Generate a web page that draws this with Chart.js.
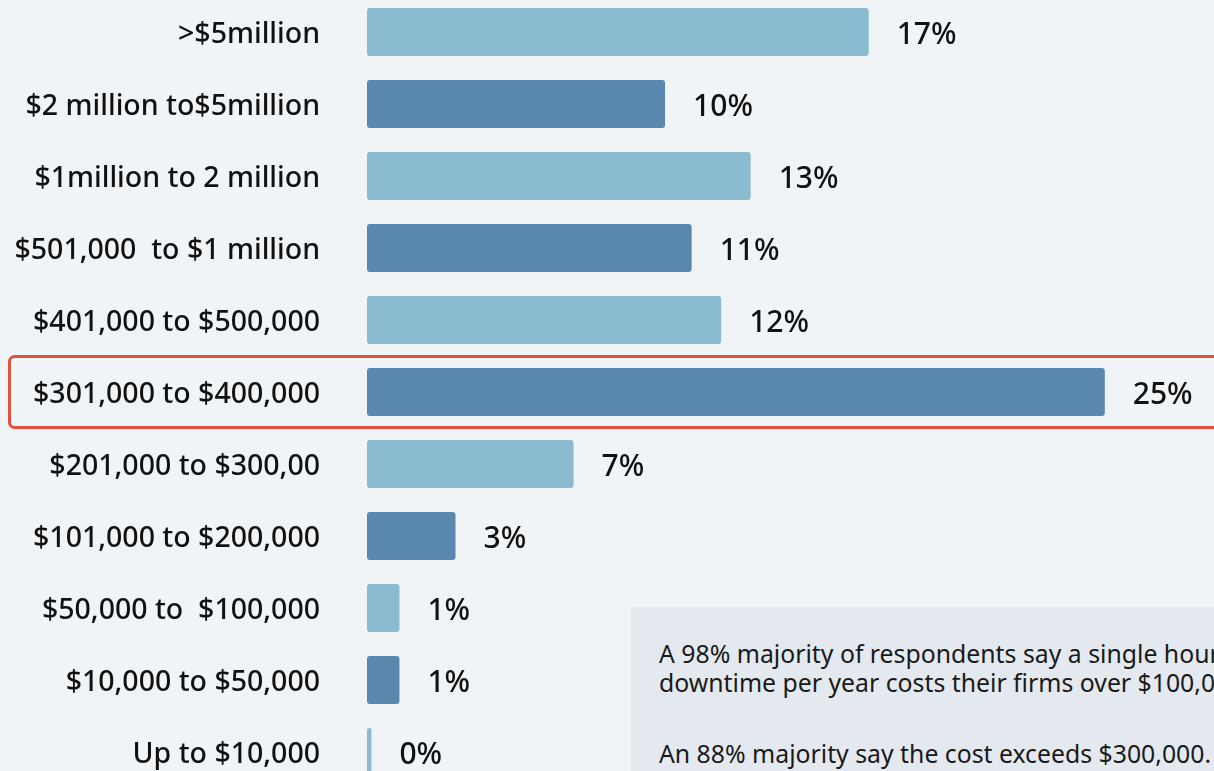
<!DOCTYPE html>
<html>
<head>
<meta charset="utf-8">
<script src="https://cdn.jsdelivr.net/npm/chart.js@4.4.1/dist/chart.umd.min.js"></script>
<style>
  html, body { margin: 0; padding: 0; background: #f1f4f7; width: 1214px; height: 771px; overflow: hidden; }
  #wrap { position: absolute; left: 0; top: -4px; width: 1214px; height: 792px; }
  #note {
    position: absolute; left: 631px; top: 607px; width: 640px; height: 200px;
    background: #e3e9ef; color: #1a1a1a;
    font-family: "Liberation Sans Narrow", "Noto Sans", sans-serif; font-size: 24.8px;
    line-height: 29px; padding: 32px 0 0 28px; box-sizing: border-box; white-space: nowrap;
  }
  #note p { margin: 0 0 42px 0; }
</style>
</head>
<body>
<div id="wrap"><canvas id="chart"></canvas></div>
<div id="note">
  <p>A 98% majority of respondents say a single hour of<br>downtime per year costs their firms over $100,000.</p>
  <p>An 88% majority say the cost exceeds $300,000.</p>
</div>
<script>
(function () {
  const categories = [
    ">$5million",
    "$2 million to$5million",
    "$1million to 2 million",
    "$501,000  to $1 million",
    "$401,000 to $500,000",
    "$301,000 to $400,000",
    "$201,000 to $300,00",
    "$101,000 to $200,000",
    "$50,000 to  $100,000",
    "$10,000 to $50,000",
    "Up to $10,000"
  ];
  // bar lengths (percent of respondents)
  const values = [17, 10.1, 13, 11, 12, 25, 7, 3, 1.1, 1.1, 0.15];
  const valueLabels = ["17%", "10%", "13%", "11%", "12%", "25%", "7%", "3%", "1%", "1%", "0%"];
  const highlightIndex = 5;

  const light = "#8bbbd0";
  const dark = "#5a87ad";
  const colors = values.map((_, i) => (i % 2 === 0 ? light : dark));
  const font = '"Noto Sans", sans-serif';

  const overlay = {
    id: "overlay",
    afterDatasetsDraw(chart) {
      const ctx = chart.ctx;
      const meta = chart.getDatasetMeta(0);
      ctx.save();
      ctx.font = "500 30px " + font;
      ctx.fillStyle = "#111";
      ctx.textAlign = "left";
      ctx.textBaseline = "middle";
      meta.data.forEach((bar, i) => {
        ctx.fillText(valueLabels[i], bar.x + 28, bar.y + 3);
      });

      // highlight box around one row
      const y = chart.scales.y;
      const cy = y.getPixelForValue(highlightIndex);
      const half = (y.getPixelForValue(1) - y.getPixelForValue(0)) / 2;
      ctx.strokeStyle = "#e2513b";
      ctx.lineWidth = 3;
      ctx.beginPath();
      ctx.roundRect(9.5, cy - half + 0.5, 1240, half * 2 - 1, 5);
      ctx.stroke();
      ctx.restore();
    }
  };

  new Chart(document.getElementById("chart"), {
    type: "bar",
    data: {
      labels: categories,
      datasets: [{
        data: values,
        backgroundColor: colors,
        borderRadius: 3,
        borderSkipped: false,
        barPercentage: 0.667,
        categoryPercentage: 1
      }]
    },
    options: {
      indexAxis: "y",
      responsive: true,
      maintainAspectRatio: false,
      animation: false,
      layout: { padding: 0 },
      plugins: { legend: { display: false }, tooltip: { enabled: false } },
      scales: {
        x: { display: false, min: 0, max: 28.7 },
        y: {
          grid: { display: false, drawTicks: false },
          border: { display: false },
          afterFit: (scale) => {
            scale.width = 367;
            scale.paddingTop = 0;
            scale.paddingBottom = 0;
          },
          ticks: {
            padding: 47,
            labelOffset: 3,
            color: "#111",
            font: { family: font, size: 28.5, weight: "500" }
          }
        }
      }
    },
    plugins: [overlay]
  });
})();
</script>
</body>
</html>
